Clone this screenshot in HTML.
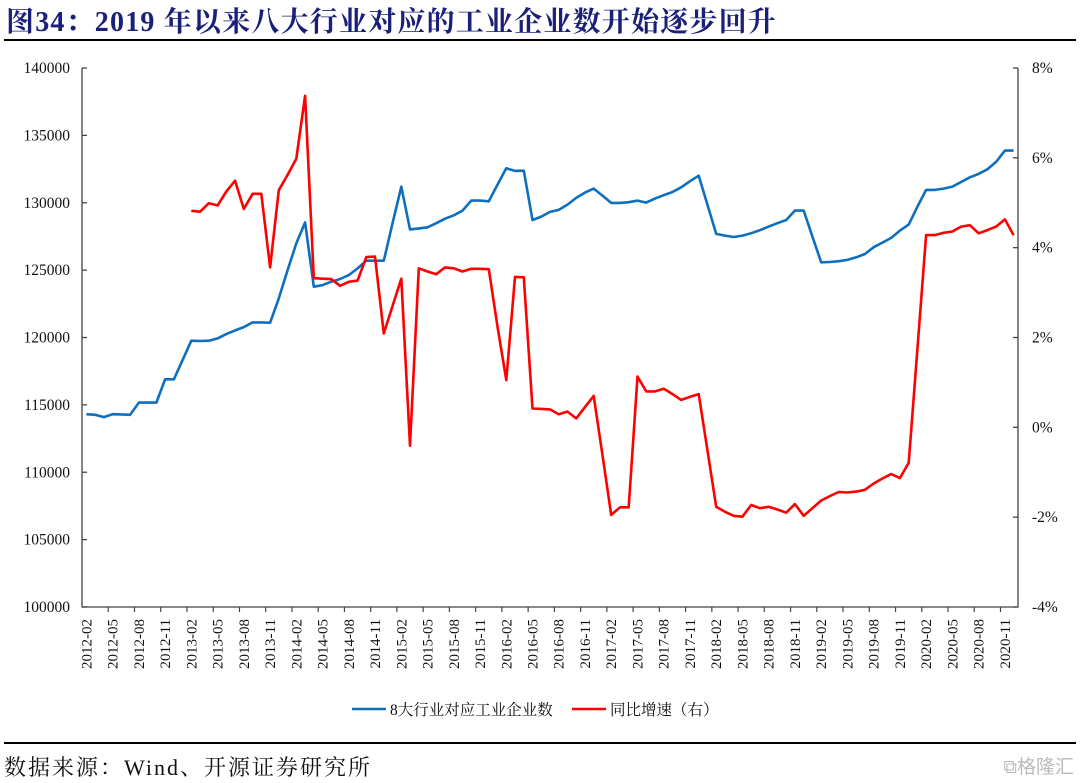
<!DOCTYPE html>
<html><head><meta charset="utf-8">
<style>
html,body{margin:0;padding:0;background:#fff;}
body{width:1080px;height:783px;overflow:hidden;position:relative;font-family:"Liberation Serif","Noto Serif CJK SC",serif;}
.title{position:absolute;left:6px;top:0px;font-size:28px;letter-spacing:1.2px;font-weight:bold;color:#1a1f7a;white-space:nowrap;font-family:"Liberation Serif","Noto Serif CJK SC",serif;}
.rule{position:absolute;left:4px;width:1072px;height:2px;background:#000;}
.src{position:absolute;left:4px;top:751px;font-size:22px;letter-spacing:2px;color:#111;white-space:nowrap;}
.wm{position:absolute;right:6px;top:752px;font-size:19px;color:#bbb;font-family:"Noto Sans CJK SC",sans-serif;}
</style></head>
<body>
<div class="title">图34：2019 年以来八大行业对应的工业企业数开始逐步回升</div>
<div class="rule" style="top:39px"></div>
<svg id="chart" width="1080" height="783" style="position:absolute;left:0;top:0"></svg>
<div class="rule" style="top:742px"></div>
<div class="src">数据来源：Wind、开源证券研究所</div>
<div class="wm">⧉格隆汇</div>
<script>
const startYear = 2012, startMonth = 2;
const leftTicks = [100000,105000,110000,115000,120000,125000,130000,135000,140000];
const rightTicks = [-4,-2,0,2,4,6,8];
const firmCount = [114310,114260,114090,114310,114290,114260,115170,115170,115170,116900,116900,118330,
119760,119740,119760,119930,120250,120530,120770,121120,121120,121100,122900,125000,126980,128540,
123770,123890,124140,124340,124630,125130,125700,125700,125700,128470,131190,128020,128100,
128180,128480,128820,129070,129420,130160,130160,130110,131350,132560,132360,132380,128720,128970,
129320,129470,129860,130360,130750,131050,130530,129990,129990,130040,130160,130010,130310,130560,
130800,131150,131600,132010,129840,127690,127560,127460,127560,127740,127960,128230,128480,128720,
129420,129420,127490,125580,125600,125660,125760,125950,126200,126700,127040,127390,127930,128380,
129710,130950,130950,131050,131200,131540,131890,132140,132480,133030,133870,133870];
const yoyGrowth = [null,null,null,null,null,null,null,null,null,null,null,null,
4.82,4.80,4.99,4.94,5.25,5.49,4.86,5.20,5.20,3.56,5.28,5.62,5.98,7.38,3.32,3.31,3.30,3.15,3.24,3.27,
3.79,3.80,2.09,2.70,3.31,-0.41,3.54,3.47,3.41,3.56,3.54,3.47,3.53,3.53,3.52,2.24,1.05,3.35,3.34,
0.42,0.41,0.40,0.29,0.35,0.20,0.45,0.70,-0.62,-1.95,-1.78,-1.78,1.13,0.80,0.80,0.86,0.74,0.61,0.68,
0.74,-0.52,-1.77,-1.88,-1.97,-1.99,-1.73,-1.80,-1.77,-1.83,-1.90,-1.71,-1.97,-1.80,-1.63,-1.53,
-1.44,-1.45,-1.43,-1.39,-1.25,-1.14,-1.04,-1.13,-0.79,1.74,4.28,4.28,4.33,4.36,4.47,4.50,4.32,4.39,
4.47,4.63,4.28];
const seriesNames = ["8大行业对应工业企业数","同比增速（右）"];

const NS="http://www.w3.org/2000/svg";
const svg=document.getElementById('chart');
const L=82,R=1018,T=68,B=607,N=firmCount.length;
const band=(R-L)/N;
const xs=i=>L+band*(i+0.5);
const yl=v=>B-(v-100000)/40000*(B-T);
const yr=v=>B-(v+4)/12*(B-T);
function mk(tag,attrs,parent){const e=document.createElementNS(NS,tag);for(const k in attrs)e.setAttribute(k,attrs[k]);(parent||svg).appendChild(e);return e;}
const FONT='"Liberation Serif","Noto Serif CJK SC",serif';
let ax=mk('path',{d:`M${L},${T}V${B}H${R}V${T}`,fill:'none',stroke:'#444','stroke-width':1.3});


leftTicks.forEach(v=>{
  let t=mk('line',{x1:L,x2:L+5,y1:yl(v),y2:yl(v),stroke:'#444','stroke-width':1.3});
  
  
  let tx=mk('text',{x:70,y:yl(v)+5,'text-anchor':'end','font-size':15.5,'font-family':FONT,fill:'#111'});
  tx.textContent=v;
  
  
});
rightTicks.forEach(v=>{
  let t=mk('line',{x1:R-5,x2:R,y1:yr(v),y2:yr(v),stroke:'#444','stroke-width':1.3});
  
  
  let tx=mk('text',{x:1032,y:yr(v)+5,'text-anchor':'start','font-size':15.5,'font-family':FONT,fill:'#111'});
  tx.textContent=v+'%';
  
  
});
for(let i=0;i<N;i++){
  if(i%3===0&&i>0){
    let t=mk('line',{x1:L+band*i,x2:L+band*i,y1:B,y2:B+5,stroke:'#444','stroke-width':1.2});
    
    
  }
  if(i%3===0){
    const m=startMonth-1+i, y=startYear+Math.floor(m/12), mo=m%12+1;
    const lab=y+'-'+(mo<10?'0':'')+mo;
    let tx=mk('text',{x:0,y:0,'text-anchor':'end','font-size':15,'font-family':FONT,fill:'#111',transform:`translate(${xs(i)+5},${619}) rotate(-90)`});
    tx.textContent=lab;
    
    
  }
}
function linePath(arr,yf){let d='',pen=false;arr.forEach((v,i)=>{if(v===null){pen=false;return;}d+=(pen?'L':'M')+xs(i).toFixed(1)+','+yf(v).toFixed(1);pen=true;});return d;}
let b=mk('path',{d:linePath(firmCount,yl),fill:'none',stroke:'#0e6fbf','stroke-width':2.6,'stroke-linejoin':'round'});


let r=mk('path',{d:linePath(yoyGrowth,yr),fill:'none',stroke:'#ff0000','stroke-width':2.6,'stroke-linejoin':'round'});


const legs=[{x:352,c:'#0e6fbf',n:'legend-firm-count'},{x:572,c:'#ff0000',n:'legend-yoy-growth'}];
legs.forEach((lg,k)=>{
  let g=mk('g',{});
  
  
  mk('line',{x1:lg.x,x2:lg.x+34,y1:709,y2:709,stroke:lg.c,'stroke-width':2.6},g);
  let tx=mk('text',{x:lg.x+38,y:715,'font-size':15.5,'font-family':FONT,fill:'#111'},g);
  tx.textContent=seriesNames[k];
});
</script>
</body></html>
